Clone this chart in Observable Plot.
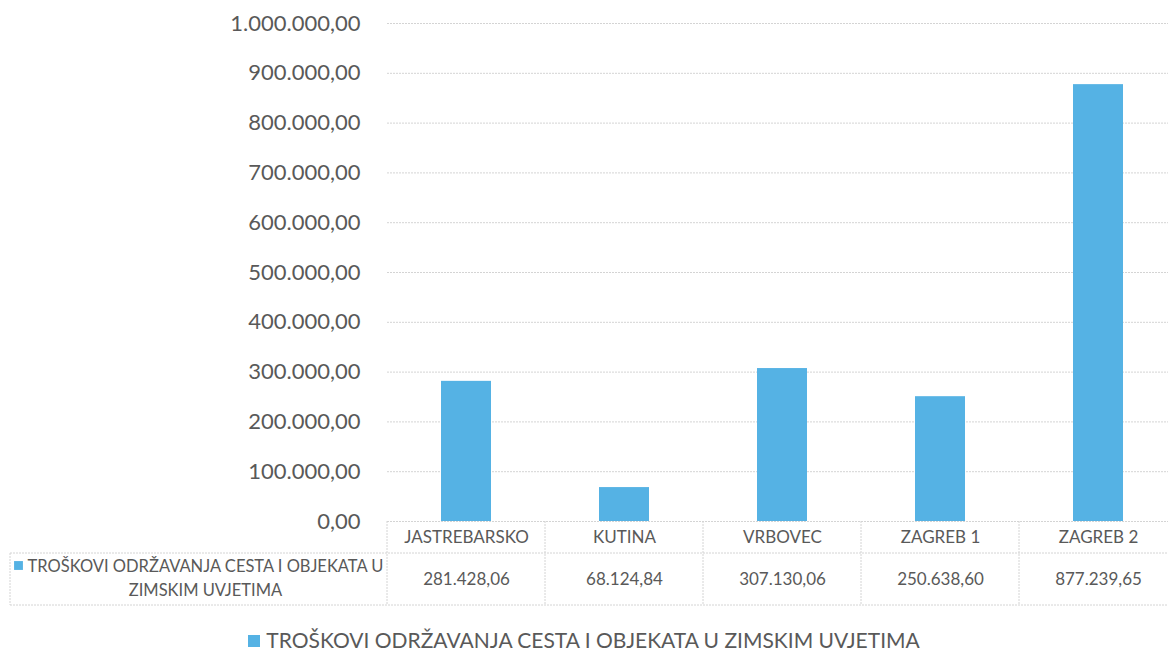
<!DOCTYPE html>
<html>
<head>
<meta charset="utf-8">
<script src="https://cdn.jsdelivr.net/npm/d3@7"></script>
<script src="https://cdn.jsdelivr.net/npm/@observablehq/plot@0.6"></script>
<style>
  html, body { margin: 0; padding: 0; background: #fff; }
  body { width: 1168px; height: 652px; overflow: hidden; font-family: Lato, "Open Sans", sans-serif; }
  #legend { position: absolute; left: 0; width: 1168px; top: 627px; text-align: center; font-size: 21px; color: #595959; line-height: 26px; }
  #legend .sw { display: inline-block; width: 12px; height: 12px; background: #55b2e4; margin-right: 6px; vertical-align: 1px; }
</style>
</head>
<body>
<div id="chart"></div>
<div id="legend"><span class="sw"></span>TROŠKOVI ODRŽAVANJA CESTA I OBJEKATA U ZIMSKIM UVJETIMA</div>
<script>
const categories = ["JASTREBARSKO", "KUTINA", "VRBOVEC", "ZAGREB 1", "ZAGREB 2"];
const values = [281428.06, 68124.84, 307130.06, 250638.60, 877239.65];
const seriesName = "TROŠKOVI ODRŽAVANJA CESTA I OBJEKATA U ZIMSKIM UVJETIMA";
const yTicks = [0, 100000, 200000, 300000, 400000, 500000, 600000, 700000, 800000, 900000, 1000000];

const hr = d3.formatLocale({decimal: ",", thousands: ".", grouping: [3], currency: ["", ""]});
const fmt = hr.format(",.2f");

const data = categories.map((c, i) => ({category: c, value: values[i]}));
const blue = "#55b2e4";
const textColor = "#595959";
const gridColor = "#d4d4d4";

// table grid drawn with the x scale
function tableGrid(index, scales, vals, dims) {
  const g = d3.create("svg:g");
  const x = scales.x;
  const step = x.step();
  const base = dims.height - dims.marginBottom;
  const right = dims.width;
  categories.forEach((c) => {
    const xe = x(c) - (step - x.bandwidth()) / 2;
    g.append("line").attr("x1", xe).attr("x2", xe).attr("y1", base).attr("y2", base + 84)
      .attr("stroke", gridColor).attr("stroke-dasharray", "2,1");
  });
  g.append("line").attr("x1", 10).attr("x2", 10).attr("y1", base + 32).attr("y2", base + 84)
    .attr("stroke", gridColor).attr("stroke-dasharray", "2,1");
  [32, 84].forEach(off => {
    g.append("line").attr("x1", 10).attr("x2", right).attr("y1", base + off).attr("y2", base + off)
      .attr("stroke", gridColor).attr("stroke-dasharray", "2,1");
  });
  return g.node();
}

const chart = Plot.plot({
  width: 1168,
  height: 620,
  marginTop: 23,
  marginBottom: 99,
  marginLeft: 387,
  marginRight: -9,
  style: {fontFamily: "Lato, 'Open Sans', sans-serif", color: textColor, background: "#fff", overflow: "visible"},
  x: {domain: categories, padding: 0, axis: null},
  y: {domain: [0, 1000000], axis: null},
  marks: [
    Plot.ruleY(yTicks, {y: d => d, stroke: gridColor, strokeDasharray: "2,1", insetRight: 9}),
    Plot.axisY(yTicks, {tickSize: 0, tickPadding: 27, tickFormat: fmt, fontSize: 22, fill: textColor, label: null}),
    Plot.barY(data, {x: "category", y: "value", fill: blue, insetLeft: 54, insetRight: 54}),
    Plot.text(data, {x: "category", text: "category", frameAnchor: "bottom", dy: 16, fontSize: 17, fill: textColor, lineAnchor: "middle"}),
    Plot.text(data, {x: "category", text: d => fmt(d.value), frameAnchor: "bottom", dy: 58, fontSize: 17, fill: textColor, lineAnchor: "middle"}),
    Plot.text([seriesName], {text: () => "TROŠKOVI ODRŽAVANJA CESTA I OBJEKATA U\nZIMSKIM UVJETIMA", frameAnchor: "bottom-left", dx: -182, dy: 34, textAnchor: "middle", lineAnchor: "top", lineHeight: 1.45, fontSize: 16.5, fill: textColor}),
    Plot.dot([seriesName], {frameAnchor: "bottom-left", dx: -369, dy: 44, symbol: "square", r: 5, fill: blue}),
    tableGrid
  ]
});
document.getElementById("chart").appendChild(chart);
</script>
</body>
</html>
